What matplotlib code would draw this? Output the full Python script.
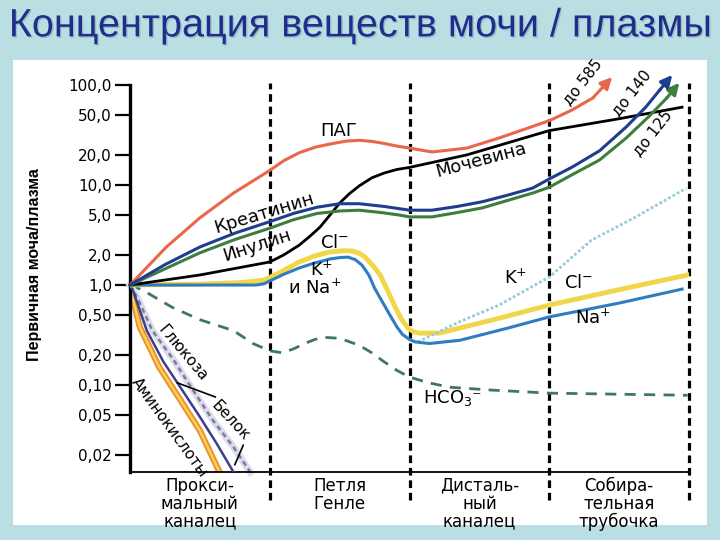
import matplotlib
matplotlib.use("Agg")
import matplotlib.pyplot as plt
from matplotlib.patches import Rectangle
import matplotlib.patheffects as pe

# отделы нефрона
segments = ['Прокси-\nмальный\nканалец', 'Петля\nГенле', 'Дисталь-\nный\nканалец', 'Собира-\nтельная\nтрубочка']
yticks = [100, 50, 20, 10, 5, 2, 1, 0.5, 0.2, 0.1, 0.05, 0.02]
ytick_labels = ['100,0', '50,0', '20,0', '10,0', '5,0', '2,0', '1,0', '0,50', '0,20', '0,10', '0,05', '0,02']

# ПАГ
pag_x = [0, 0.26, 0.5, 0.74, 1.0, 1.1, 1.21, 1.33, 1.45, 1.55, 1.64, 1.73, 1.82, 1.91, 2.0, 2.16,
         2.41, 2.64, 2.82, 3.0, 3.16, 3.31, 3.45]
pag_y = [1, 2.4, 4.7, 8.3, 14, 17.5, 21, 24, 26, 27.5, 28, 27.3, 26, 24.5, 23.4, 21.4,
         23.4, 29.5, 36, 44, 56, 74, 120]

# креатинин
creat_x = [0, 0.25, 0.5, 0.75, 1.0, 1.17, 1.34, 1.5, 1.64, 1.82, 2.0, 2.16, 2.34, 2.52, 2.7, 2.88,
           3.0, 3.16, 3.36, 3.55, 3.69, 3.79, 3.88]
creat_y = [1, 1.6, 2.4, 3.3, 4.3, 5.2, 6.0, 6.5, 6.5, 6.1, 5.6, 5.6, 6.1, 6.8, 7.9, 9.3,
           11.5, 15, 22, 38, 60, 89, 126]

# инулин
inul_x = [0, 0.25, 0.5, 0.75, 1.0, 1.17, 1.34, 1.5, 1.64, 1.8, 1.93, 2.0, 2.16, 2.34, 2.52, 2.7, 2.88,
          3.0, 3.16, 3.36, 3.55, 3.71, 3.84, 3.93]
inul_y = [1, 1.45, 2.1, 2.85, 3.7, 4.5, 5.2, 5.5, 5.6, 5.3, 5.0, 4.8, 4.8, 5.3, 5.9, 7.0, 8.3,
          9.5, 12.6, 17.8, 29.5, 48, 74, 105]

# мочевина
urea_x = [0, 0.5, 1.0, 1.1, 1.21, 1.29, 1.36, 1.43, 1.5, 1.57, 1.64, 1.73, 1.82, 1.91, 2.0,
          2.41, 3.0, 3.5, 3.95]
urea_y = [1, 1.26, 1.7, 2.0, 2.5, 3.1, 3.8, 5.0, 6.6, 8.2, 9.8, 11.8, 13.2, 14.3, 15,
          20, 35, 46, 60]

# Cl-
cl_x = [0, 0.5, 0.8, 0.96, 1.08, 1.21, 1.32, 1.43, 1.52, 1.59, 1.64, 1.68, 1.74, 1.79, 1.84,
        1.89, 1.94, 1.99, 2.03, 2.07, 2.21, 2.6, 3.0, 3.5, 3.99]
cl_y = [1, 1.02, 1.06, 1.12, 1.35, 1.7, 1.95, 2.14, 2.2, 2.19, 2.08, 1.91, 1.55, 1.26, 0.9,
        0.63, 0.46, 0.37, 0.34, 0.33, 0.33, 0.45, 0.63, 0.9, 1.26]

# Na+ (и K+ до дистального канальца)
na_x = [0, 0.9, 0.96, 1.0, 1.1, 1.21, 1.32, 1.43, 1.5, 1.56, 1.61, 1.66, 1.71, 1.75, 1.8,
        1.86, 1.91, 1.95, 2.0, 2.04, 2.14, 2.36, 2.7, 3.0, 3.5, 3.95]
na_y = [1, 1, 1.03, 1.1, 1.28, 1.48, 1.66, 1.82, 1.88, 1.9, 1.8, 1.58, 1.25, 0.93, 0.7,
        0.5, 0.38, 0.32, 0.285, 0.27, 0.26, 0.28, 0.37, 0.48, 0.66, 0.91]

# K+ в дистальном отделе
k_x = [2.06, 2.36, 2.64, 3.0, 3.3, 3.62, 3.98]
k_y = [0.27, 0.43, 0.63, 1.2, 2.8, 4.8, 9.3]

# HCO3-
hco3_x = [0, 0.09, 0.3, 0.5, 0.74, 0.88, 1.0, 1.09, 1.17, 1.25, 1.32, 1.39, 1.47, 1.54, 1.64,
          1.73, 1.82, 1.91, 2.0, 2.14, 2.29, 2.59, 3.0, 3.99]
hco3_y = [1, 0.89, 0.6, 0.45, 0.35, 0.26, 0.22, 0.21, 0.23, 0.26, 0.285, 0.30, 0.295, 0.28, 0.25,
          0.21, 0.17, 0.14, 0.12, 0.105, 0.095, 0.089, 0.083, 0.079]

# глюкоза, белок, аминокислоты
gluc_x = [0, 0.05, 0.16, 0.31, 0.45, 0.59, 0.74, 0.86]
gluc_y = [1, 0.76, 0.35, 0.18, 0.089, 0.045, 0.024, 0.0135]
prot_x = [0, 0.02, 0.12, 0.24, 0.36, 0.5, 0.62, 0.74]
prot_y = [1, 0.89, 0.35, 0.17, 0.095, 0.048, 0.026, 0.0135]
amino_x = [0, 0.01, 0.07, 0.21, 0.36, 0.5, 0.64]
amino_y = [1, 0.83, 0.38, 0.15, 0.071, 0.035, 0.0135]

fig = plt.figure(figsize=(7.2, 5.4), dpi=100)
fig.patch.set_facecolor('#badfe3')
fig.patches.append(Rectangle((0.018, 0.028), 0.964, 0.861, transform=fig.transFigure,
                             facecolor='white', edgecolor='none', zorder=-5))

fig.text(0.5, 0.953, 'Концентрация веществ мочи / плазмы', ha='center', va='center',
         fontsize=28.5, color='#1f2d8c', family='Liberation Sans',
         path_effects=[pe.withSimplePatchShadow(offset=(1, -1), shadow_rgbFace='#7a8a9a', alpha=0.4)])

ax = fig.add_axes([0.1806, 0.1259, 0.7764, 0.7167])
ax.patch.set_visible(False)
ax.set_yscale('log')
ax.set_xlim(0, 4)
ax.set_ylim(0.0135, 100)
ax.minorticks_off()
ax.set_yticks(yticks)
ax.set_yticklabels(ytick_labels)
ax.set_xticks([])
ax.tick_params(axis='y', length=11, width=1.6, pad=2, labelsize=11, colors='black')
for s in ['top', 'right']:
    ax.spines[s].set_visible(False)
ax.spines['left'].set_linewidth(2.4)
ax.spines['bottom'].set_linewidth(1.3)

# границы отделов
for xb in [1, 2, 3, 4]:
    ax.axvline(xb, ymin=-0.072, ymax=1.005, color='black', lw=2.3,
               linestyle=(0, (2.4, 1.5)), clip_on=False, zorder=1)

for i, name in enumerate(segments):
    ax.text(i + 0.5, -0.012, name, transform=ax.get_xaxis_transform(), ha='center', va='top',
            fontsize=12, linespacing=1.0)

# кривые
ax.plot(hco3_x, hco3_y, color='#3e7a5a', lw=2, linestyle=(0, (4, 3)), zorder=2)
ax.plot(gluc_x, gluc_y, color='#dcdcf0', lw=5, zorder=2, clip_on=False)
ax.plot(gluc_x, gluc_y, color='#7d7d8e', lw=1.8, linestyle=(0, (2, 1.5)), zorder=2, clip_on=False)
ax.plot(amino_x, amino_y, color='#ec8f2c', lw=4.5, zorder=2)
ax.plot(amino_x, amino_y, color='#f7d257', lw=1.8, zorder=2)
ax.plot(prot_x, prot_y, color='#3b3f8c', lw=1.8, zorder=3)

ax.plot(cl_x, cl_y, color='#f2d64a', lw=3.5, zorder=3, solid_joinstyle='round')
ax.plot(k_x, k_y, color='#98cad8', lw=2, linestyle=(0, (1, 0.8)), zorder=3)
ax.plot(na_x, na_y, color='#2f7dc0', lw=2.2, zorder=4, solid_joinstyle='round')
ax.plot(urea_x, urea_y, color='black', lw=2, zorder=4, solid_joinstyle='round')

for xs, ys, c in [(pag_x, pag_y, '#e8674a'), (inul_x, inul_y, '#3d7d3d'), (creat_x, creat_y, '#1f3d8f')]:
    ax.plot(xs[:-1], ys[:-1], color=c, lw=2.2, zorder=4, clip_on=False, solid_joinstyle='round')
    ax.annotate('', xy=(xs[-1], ys[-1]), xytext=(xs[-2], ys[-2]),
                arrowprops=dict(arrowstyle='-|>', color=c, lw=2.2, mutation_scale=17,
                                shrinkA=0, shrinkB=0), annotation_clip=False, zorder=5)

# подписи
lab = dict(fontsize=13, ha='center', va='center', zorder=6)
ax.text(1.49, 35, 'ПАГ', **lab)
ax.text(0.96, 5.25, 'Креатинин', rotation=17, **lab)
ax.text(0.91, 2.5, 'Инулин', rotation=18, **lab)
ax.text(2.51, 17.8, 'Мочевина', rotation=15, **lab)
ax.text(1.46, 2.63, 'Cl$^{-}$', **lab)
ax.text(1.37, 1.41, 'K$^{+}$', **lab)
ax.text(1.32, 0.93, 'и Na$^{+}$', **lab)
ax.text(2.76, 1.17, 'K$^{+}$', **lab)
ax.text(3.21, 1.05, 'Cl$^{-}$', **lab)
ax.text(3.31, 0.47, 'Na$^{+}$', **lab)
ax.text(2.31, 0.074, 'HCO$_3$\u207b', **lab)

small = dict(fontsize=11, ha='center', va='center', zorder=6)
ax.text(3.24, 107, 'до 585', rotation=52, **small)
ax.text(3.59, 83, 'до 140', rotation=52, **small)
ax.text(3.74, 33, 'до 125', rotation=52, **small)
ax.text(0.38, 0.21, 'Глюкоза', rotation=-50, **small)
ax.text(0.72, 0.044, 'Белок', rotation=-47, **small)
ax.text(0.28, 0.038, 'Аминокислоты', rotation=-54, **small)
ax.plot([0.34, 0.61], [0.105, 0.076], color='black', lw=1.2, zorder=6)
ax.plot([0.81, 0.75], [0.025, 0.016], color='black', lw=1.2, zorder=6)

fig.text(35 / 720, 1 - 265 / 540, 'Первичная моча/плазма', rotation=90, ha='center', va='center',
         fontsize=11.5, fontweight='bold', family='Liberation Sans')

fig.savefig('out.png', dpi=100, facecolor=fig.get_facecolor())
